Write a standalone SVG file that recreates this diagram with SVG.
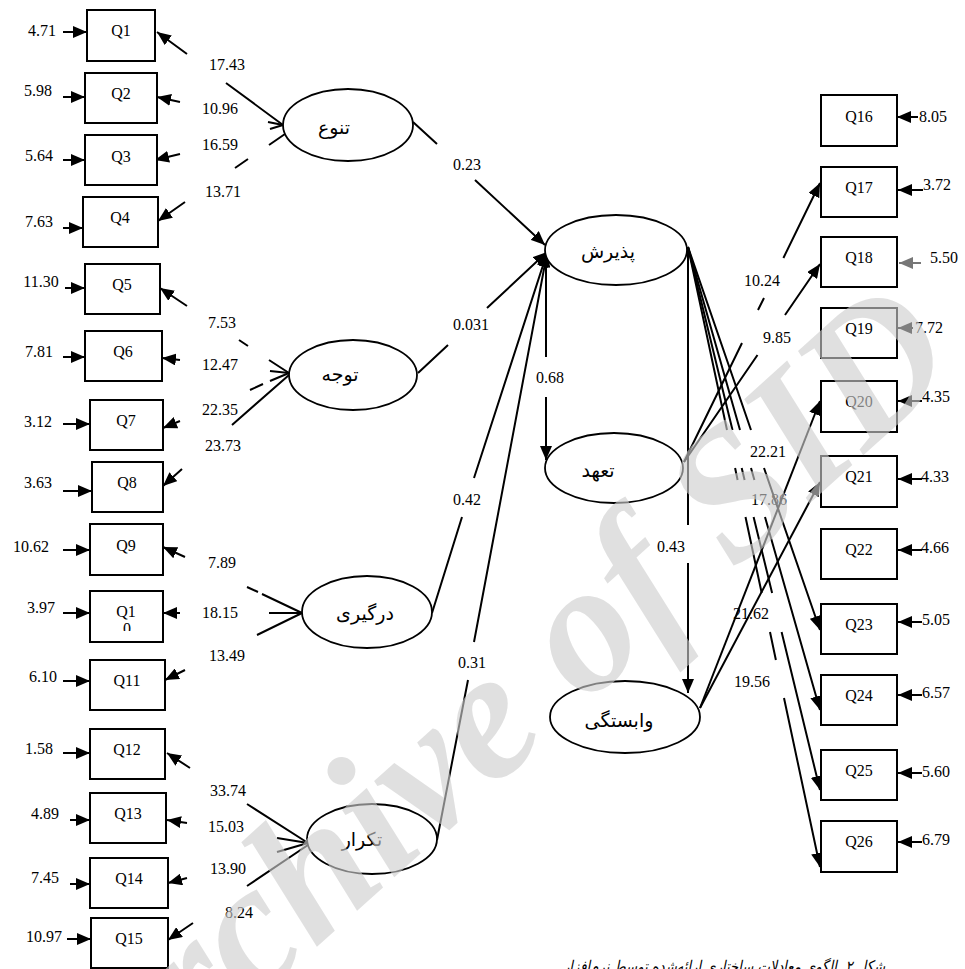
<svg xmlns="http://www.w3.org/2000/svg" width="965" height="969" viewBox="0 0 965 969">
<defs>
<marker id="ah" viewBox="0 0 14 12" refX="14" refY="6" markerWidth="14" markerHeight="12" markerUnits="userSpaceOnUse" orient="auto"><path d="M0,0 L14,6 L0,12 z" fill="#000"/></marker>
<marker id="ahg" viewBox="0 0 14 12" refX="14" refY="6" markerWidth="14" markerHeight="12" markerUnits="userSpaceOnUse" orient="auto"><path d="M0,0 L14,6 L0,12 z" fill="#777"/></marker>
<clipPath id="q10clip"><rect x="90" y="591" width="73" height="40"/></clipPath>
</defs>
<style>
.box{fill:#fff;stroke:#000;stroke-width:2}
.ell{fill:#fff;stroke:#000;stroke-width:1.8}
.t{font-family:"Liberation Serif","Times New Roman",serif;font-size:16px;fill:#000}
.m{text-anchor:middle}
.fa{font-family:"Liberation Serif","DejaVu Sans",serif;font-size:19px;text-anchor:middle;fill:#000}
.ln{fill:none;stroke:#000;stroke-width:2}
.ar{marker-end:url(#ah)}
.wm{font-family:"Liberation Serif","Times New Roman",serif;font-weight:bold;font-style:italic;font-size:185px;fill:#cecece;opacity:0.62}
</style>
<rect width="965" height="969" fill="#fff"/>

<g id="connectors">
<path class="ln ar" d="M63,32 H87"/>
<path class="ln ar" d="M63,97 H85"/>
<path class="ln ar" d="M63,160 H85"/>
<path class="ln ar" d="M63,228 H83"/>
<path class="ln ar" d="M65,288 H85"/>
<path class="ln ar" d="M63,357 H85"/>
<path class="ln ar" d="M63,424 H90"/>
<path class="ln ar" d="M63,491 H92"/>
<path class="ln ar" d="M63,550 H90"/>
<path class="ln ar" d="M63,613 H90"/>
<path class="ln ar" d="M63,681 H90"/>
<path class="ln ar" d="M63,753 H90"/>
<path class="ln ar" d="M70,820 H90"/>
<path class="ln ar" d="M70,884 H90"/>
<path class="ln ar" d="M67,939 H91"/>
<path class="ln ar" d="M283,125 L226,83 M187,54 L157,32"/>
<path class="ln ar" d="M283,125 L268,122 M180,102 L157,97"/>
<path class="ln ar" d="M283,125 L270,129 M180,154 L155,160"/>
<path class="ln ar" d="M285,134 L269,145 M248,159 L235,168 M185,202 L158,221"/>
<path class="ln ar" d="M289,373 L269,360 M248,346 L239,340 M187,306 L160,288"/>
<path class="ln ar" d="M289,373 L270,371 M180,360 L162,358"/>
<path class="ln ar" d="M289,373 L270,381 M263,384 L250,390 M180,421 L163,428"/>
<path class="ln ar" d="M289,375 L232,425 M182,469 L163,486"/>
<path class="ln ar" d="M302,613 L262,594 M258,592 L247,587 M185,557 L163,547"/>
<path class="ln ar" d="M302,613 L269,613 M180,613 L163,613"/>
<path class="ln ar" d="M302,613 L257,635 M185,670 L165,680"/>
<path class="ln ar" d="M308,843 L247,804 M190,768 L167,753"/>
<path class="ln ar" d="M308,843 L277,838 M187,823 L167,820"/>
<path class="ln ar" d="M308,843 L277,852 M187,878 L168,883"/>
<path class="ln ar" d="M308,845 L247,886 M193,923 L168,940"/>
<path class="ln ar" d="M413,122 L437,144 M475,180 L545,245"/>
<path class="ln ar" d="M418,373 L448,345 M487,308 L547,252"/>
<path class="ln ar" d="M432,613 L462,517 M474,478 L547,253"/>
<path class="ln ar" d="M437,840 L468,680 M474,642 L547,253"/>
<path class="ln ar" d="M546,253 L546,357 M546,397 L546,460"/>
<path class="ln ar" d="M688,247 L688,525 M688,563 L688,693"/>
<path class="ln ar" d="M688,247 L751,430 M764,468 L820,630"/>
<path class="ln ar" d="M688,247 L740,430 M751,468 L754.4,480 M765,517 L820,710"/>
<path class="ln ar" d="M688,247 L732.5,430 M741.7,468 L744.6,480 M753.6,517 L772.1,593 M781.6,632 L820,790"/>
<path class="ln ar" d="M688,247 L727,430 M735.1,468 L737.6,480 M745.5,517 L761.7,593 M770,632 L775.9,660 M784,698 L820,867"/>
<path class="ln ar" d="M684,462 L742,343 M758,310 L764,298 M783.4,258 L820,183"/>
<path class="ln ar" d="M684,462 L757.5,355 M785,315 L820,264"/>
<path class="ln ar" d="M700,708 L820,401"/>
<path class="ln ar" d="M700,708 L820,482"/>
<path class="ln ar" d="M918,117 H897"/>
<path class="ln ar" d="M923,190 H898"/>
<path d="M921,263 H899" fill="none" stroke="#777" stroke-width="2" marker-end="url(#ahg)"/>
<path class="ln ar" d="M913,328 H898"/>
<path class="ln ar" d="M922,401 H898"/>
<path class="ln ar" d="M922,479 H898"/>
<path class="ln ar" d="M922,550 H898"/>
<path class="ln ar" d="M922,622 H898"/>
<path class="ln ar" d="M922,695 H898"/>
<path class="ln ar" d="M922,773 H898"/>
<path class="ln ar" d="M922,842 H898"/>
</g>

<g id="q1"><rect class="box" x="87" y="10" width="68" height="51"/><text class="t m" x="121" y="36">Q1</text></g>
<g id="q2"><rect class="box" x="85" y="73" width="72" height="50"/><text class="t m" x="121" y="99">Q2</text></g>
<g id="q3"><rect class="box" x="85" y="135" width="72" height="50"/><text class="t m" x="121" y="162">Q3</text></g>
<g id="q4"><rect class="box" x="83" y="197" width="75" height="50"/><text class="t m" x="120" y="223">Q4</text></g>
<g id="q5"><rect class="box" x="85" y="264" width="75" height="50"/><text class="t m" x="122" y="290">Q5</text></g>
<g id="q6"><rect class="box" x="85" y="331" width="77" height="50"/><text class="t m" x="123" y="357">Q6</text></g>
<g id="q7"><rect class="box" x="90" y="400" width="73" height="50"/><text class="t m" x="126" y="426">Q7</text></g>
<g id="q8"><rect class="box" x="92" y="462" width="71" height="50"/><text class="t m" x="127" y="488">Q8</text></g>
<g id="q9"><rect class="box" x="90" y="524" width="73" height="51"/><text class="t m" x="126" y="551">Q9</text></g>
<g id="q10"><rect class="box" x="90" y="591" width="73" height="51"/><text class="t m" x="126" y="617">Q1</text><text class="t m" x="127" y="634" clip-path="url(#q10clip)">0</text></g>
<g id="q11"><rect class="box" x="90" y="660" width="75" height="50"/><text class="t m" x="127" y="686">Q11</text></g>
<g id="q12"><rect class="box" x="90" y="729" width="75" height="50"/><text class="t m" x="127" y="755">Q12</text></g>
<g id="q13"><rect class="box" x="90" y="793" width="76" height="50"/><text class="t m" x="128" y="819">Q13</text></g>
<g id="q14"><rect class="box" x="90" y="858" width="78" height="50"/><text class="t m" x="129" y="884">Q14</text></g>
<g id="q15"><rect class="box" x="91" y="918" width="77" height="50"/><text class="t m" x="129" y="944">Q15</text></g>

<g id="q16"><rect class="box" x="821" y="95" width="76" height="51"/><text class="t m" x="859" y="122">Q16</text></g>
<g id="q17"><rect class="box" x="821" y="167" width="76" height="50"/><text class="t m" x="859" y="193">Q17</text></g>
<g id="q18"><rect class="box" x="821" y="237" width="76" height="50"/><text class="t m" x="859" y="263">Q18</text></g>
<g id="q19"><rect class="box" x="821" y="308" width="76" height="50"/><text class="t m" x="859" y="334">Q19</text></g>
<g id="q20"><rect class="box" x="821" y="381" width="76" height="51"/><text class="t m" x="859" y="407">Q20</text></g>
<g id="q21"><rect class="box" x="821" y="456" width="76" height="51"/><text class="t m" x="859" y="482">Q21</text></g>
<g id="q22"><rect class="box" x="821" y="529" width="76" height="50"/><text class="t m" x="859" y="555">Q22</text></g>
<g id="q23"><rect class="box" x="821" y="604" width="76" height="50"/><text class="t m" x="859" y="630">Q23</text></g>
<g id="q24"><rect class="box" x="821" y="675" width="76" height="50"/><text class="t m" x="859" y="701">Q24</text></g>
<g id="q25"><rect class="box" x="821" y="750" width="76" height="50"/><text class="t m" x="859" y="776">Q25</text></g>
<g id="q26"><rect class="box" x="821" y="821" width="76" height="51"/><text class="t m" x="859" y="847">Q26</text></g>

<g id="tanavo"><ellipse class="ell" cx="348" cy="125" rx="65" ry="36"/><text class="fa" x="334" y="134">تنوع</text></g>
<g id="tavajoh"><ellipse class="ell" cx="353" cy="375" rx="64" ry="35"/><text class="fa" x="340" y="381">توجه</text></g>
<g id="dargiri"><ellipse class="ell" cx="367" cy="612" rx="65" ry="36"/><text class="fa" x="365" y="620">درگیری</text></g>
<g id="tekrar"><ellipse class="ell" cx="372" cy="839" rx="65" ry="35"/><text class="fa" x="362" y="846">تکرار</text></g>
<g id="paziresh"><ellipse class="ell" cx="616" cy="250" rx="71" ry="35"/><text class="fa" x="608" y="258">پذیرش</text></g>
<g id="taahod"><ellipse class="ell" cx="614" cy="468" rx="69" ry="35"/><text class="fa" x="598" y="477">تعهد</text></g>
<g id="vabastegi"><ellipse class="ell" cx="625" cy="717" rx="75" ry="36"/><text class="fa" x="619" y="727">وابستگی</text></g>

<g id="labels" class="t">
<text class="m" x="42" y="36">4.71</text>
<text class="m" x="38" y="96">5.98</text>
<text class="m" x="39" y="161">5.64</text>
<text class="m" x="39" y="227">7.63</text>
<text class="m" x="41" y="287">11.30</text>
<text class="m" x="39" y="357">7.81</text>
<text class="m" x="38" y="427">3.12</text>
<text class="m" x="38" y="488">3.63</text>
<text class="m" x="31" y="552">10.62</text>
<text class="m" x="41" y="613">3.97</text>
<text class="m" x="43" y="682">6.10</text>
<text class="m" x="39" y="754">1.58</text>
<text class="m" x="45" y="819">4.89</text>
<text class="m" x="45" y="883">7.45</text>
<text class="m" x="44" y="942">10.97</text>

<text class="m" x="227" y="70">17.43</text>
<text class="m" x="220" y="114">10.96</text>
<text class="m" x="220" y="150">16.59</text>
<text class="m" x="223" y="197">13.71</text>
<text class="m" x="222" y="328">7.53</text>
<text class="m" x="220" y="370">12.47</text>
<text class="m" x="220" y="415">22.35</text>
<text class="m" x="223" y="451">23.73</text>
<text class="m" x="222" y="568">7.89</text>
<text class="m" x="220" y="618">18.15</text>
<text class="m" x="227" y="661">13.49</text>
<text class="m" x="228" y="796">33.74</text>
<text class="m" x="226" y="832">15.03</text>
<text class="m" x="228" y="874">13.90</text>
<text class="m" x="239" y="918">8.24</text>

<text class="m" x="467" y="170">0.23</text>
<text class="m" x="471" y="330">0.031</text>
<text class="m" x="467" y="505">0.42</text>
<text class="m" x="472" y="668">0.31</text>
<text class="m" x="550" y="383">0.68</text>
<text class="m" x="671" y="552">0.43</text>

<text class="m" x="762" y="286">10.24</text>
<text class="m" x="777" y="343">9.85</text>
<text class="m" x="768" y="457">22.21</text>
<text class="m" x="769" y="505">17.86</text>
<text class="m" x="751" y="619">21.62</text>
<text class="m" x="752" y="687">19.56</text>

<text x="919" y="122">8.05</text>
<text x="923" y="190">3.72</text>
<text x="930" y="263">5.50</text>
<text x="915" y="333">7.72</text>
<text x="922" y="402">4.35</text>
<text x="921" y="482">4.33</text>
<text x="921" y="553">4.66</text>
<text x="922" y="625">5.05</text>
<text x="922" y="698">6.57</text>
<text x="922" y="777">5.60</text>
<text x="922" y="845">6.79</text>
</g>

<text id="caption" x="724" y="972" direction="rtl" text-anchor="middle" textLength="322" lengthAdjust="spacingAndGlyphs" style="font-family:'DejaVu Sans',sans-serif;font-size:16px;font-style:italic;fill:#000">شکل ۲. الگوی معادلات ساختاری ارائه‌شده توسط نرم‌افزار</text>

<text class="wm" transform="translate(108,1135) rotate(-42)">Archive of SID</text>
</svg>
